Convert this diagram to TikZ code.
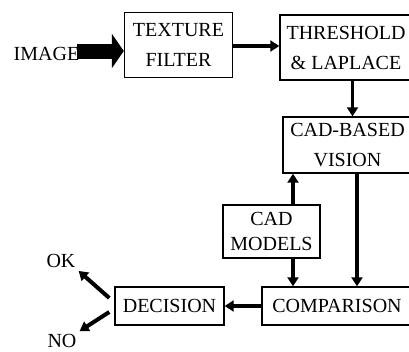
\documentclass[tikz,border=0pt]{standalone}
\usepackage{fontspec}
\setmainfont{Liberation Serif}
\usetikzlibrary{arrows.meta}
\tikzset{
	box/.style={draw, line width=1.4pt, align=center, inner sep=2pt, font=\fontsize{20}{30}\selectfont},
	label/.style={inner sep=3pt, font=\fontsize{20}{24}\selectfont},
	flow/.style={line width=3.5pt, -{Triangle[length=9pt,width=11pt]}},
	bigflow/.style={line width=15pt, -{Triangle[length=12pt,width=34pt]}}
}

\begin{document}
\begin{tikzpicture}[x=1pt,y=-1pt]
		%%%%% START %%%%%
		\useasboundingbox (0,0) rectangle (409,351);
		
		\node[box, minimum width=108pt, minimum height=65pt] (texture) at (178.5,45) {TEXTURE\\FILTER};
		\node[box, minimum width=132pt, minimum height=65pt] (threshold) at (346,47.5) {THRESHOLD\\\& LAPLACE};
		\node[box, minimum width=129pt, minimum height=56pt] (vision) at (347.5,145) {CAD-BASED\\VISION};
		\node[box, minimum width=97pt, minimum height=53pt] (models) at (271.5,231.5) {CAD\\[-5pt]MODELS};
		\node[box, minimum width=150pt, minimum height=38pt] (comparison) at (337,306) {COMPARISON};
		\node[box, minimum width=109pt, minimum height=38pt] (decision) at (169.5,306) {DECISION};
		
		\node[label, inner sep=0pt] (image) at (46.5,54) {IMAGE};
		\node[label] (ok) at (61,261) {OK};
		\node[label] (no) at (62,341) {NO};
		
		\draw[bigflow] ([xshift=-2pt,yshift=3pt]image.east) -- ([yshift=3pt]texture.west |- image.east);
		\draw[flow] ([yshift=-1pt]texture.east) -- ([yshift=-1pt]texture.east -| threshold.west);
		\draw[flow] ([xshift=6.5pt]threshold.south) -- ([xshift=6.5pt]threshold.south |- vision.north);
		
		\draw[flow] ([xshift=21.5pt]models.north) -- ([xshift=21.5pt]models.north |- vision.south);
		\draw[flow] ([xshift=21.5pt]models.south) -- ([xshift=21.5pt]models.south |- comparison.north);
		\draw[flow] ([xshift=9.5pt]vision.south) -- ([xshift=9.5pt]vision.south |- comparison.north);
		
		\draw[flow] (comparison.west) -- (decision.east);
		
		\draw[flow, line width=4pt] ([xshift=-5pt,yshift=8pt]decision.west) -- (ok.south east);
		\draw[flow, line width=4pt] ([xshift=-5pt,yshift=-6pt]decision.west) -- (no.north east);
		
		%%%%% END %%%%%
	\end{tikzpicture}
\end{document}
